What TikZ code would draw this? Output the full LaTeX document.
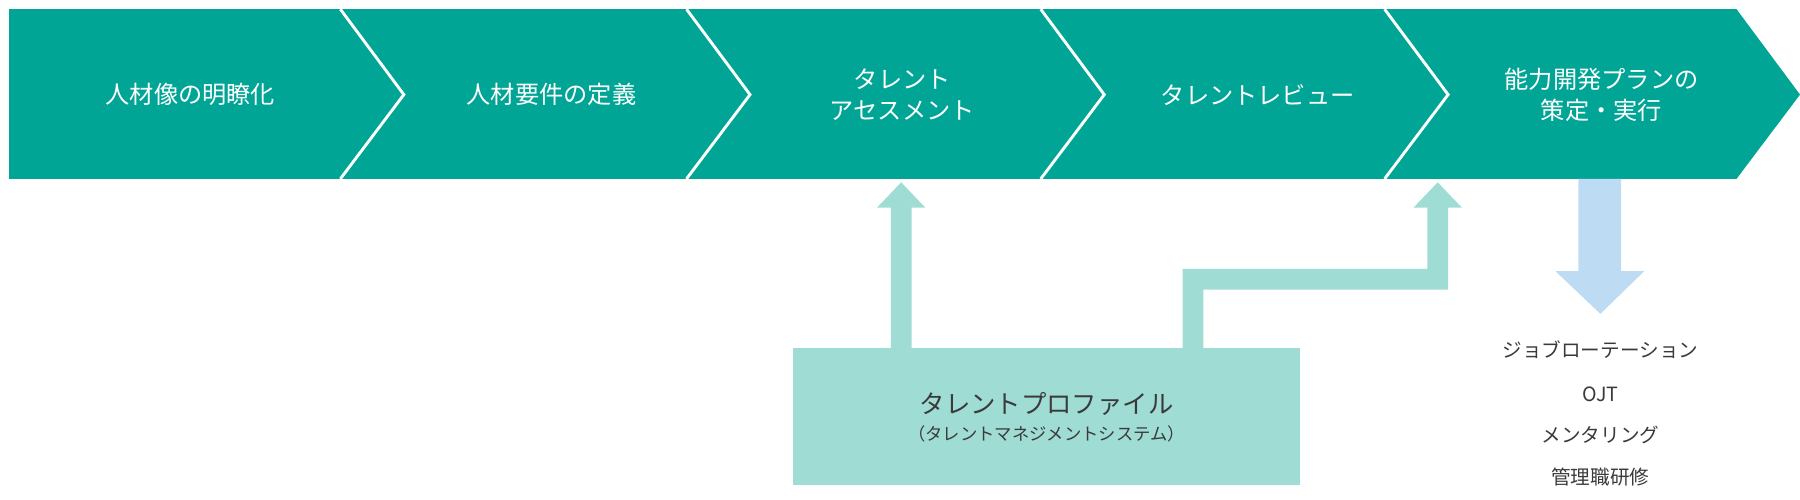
\documentclass[tikz,border=0pt]{standalone}
\usepackage{fontspec}
\setmainfont{Noto Sans CJK JP}
\usetikzlibrary{positioning}
\definecolor{stepteal}{HTML}{00A595}
\definecolor{paleteal}{HTML}{9FDCD4}
\definecolor{paleblue}{HTML}{BDDCF3}
\definecolor{inkgray}{HTML}{3A3A3A}
\tikzset{
  steplabel/.style={text=white,font=\fontsize{21}{27}\selectfont,align=center},
  listlabel/.style={text=inkgray,font=\fontsize{17}{20}\selectfont},
}
\begin{document}
\begin{tikzpicture}[x=1pt,y=-1pt]
    \useasboundingbox (0,0) rectangle (1560,433);
    % process banner
    \fill[stepteal] (8,8)--(1505,8)--(1560,82)--(1505,155)--(8,155)--cycle;
    \foreach \xa in {295,595,902,1200}
      \draw[white,line width=2.5pt] (\xa,8)--(\xa+55,82)--(\xa,155);
    \node[steplabel] (s1) at (165,82) {人材像の明瞭化};
    \node[steplabel] (s2) at (478,82) {人材要件の定義};
    \node[steplabel] (s3) at (782,82) {タレント\\アセスメント};
    \node[steplabel] (s4) at (1090,82) {タレントレビュー};
    \node[steplabel] (s5) at (1388,82) {能力開発プランの\\策定・実行};
    % profile box
    \fill[paleteal] (687,302) rectangle (1127,420);
    \node[text=inkgray,font=\fontsize{22}{26}\selectfont] (prof) at (907,350) {タレントプロファイル};
    \node[text=inkgray,font=\fontsize{15}{18}\selectfont,below=2pt of prof] (sys) {（タレントマネジメントシステム）};
    % arrows up
    \fill[paleteal] (772,302)--(772,180)--(760,180)--(781,158)--(802,180)--(790,180)--(790,302)--cycle;
    \fill[paleteal] (1025,302)--(1025,233)--(1237,233)--(1237,180)--(1225,180)--(1246,158)--(1267,180)
      --(1255,180)--(1255,251)--(1043,251)--(1043,302)--cycle;
    % arrow down
    \fill[paleblue] (1368,155)--(1405,155)--(1405,235)--(1425,235)--(1387,272)--(1348,235)--(1368,235)--cycle;
    % measures
    \node[listlabel] (m1) at (1387,303) {ジョブローテーション};
    \node[listlabel] (m2) at (1387,342) {OJT};
    \node[listlabel] (m3) at (1387,377) {メンタリング};
    \node[listlabel] (m4) at (1387,413) {管理職研修};
\end{tikzpicture}
\end{document}
